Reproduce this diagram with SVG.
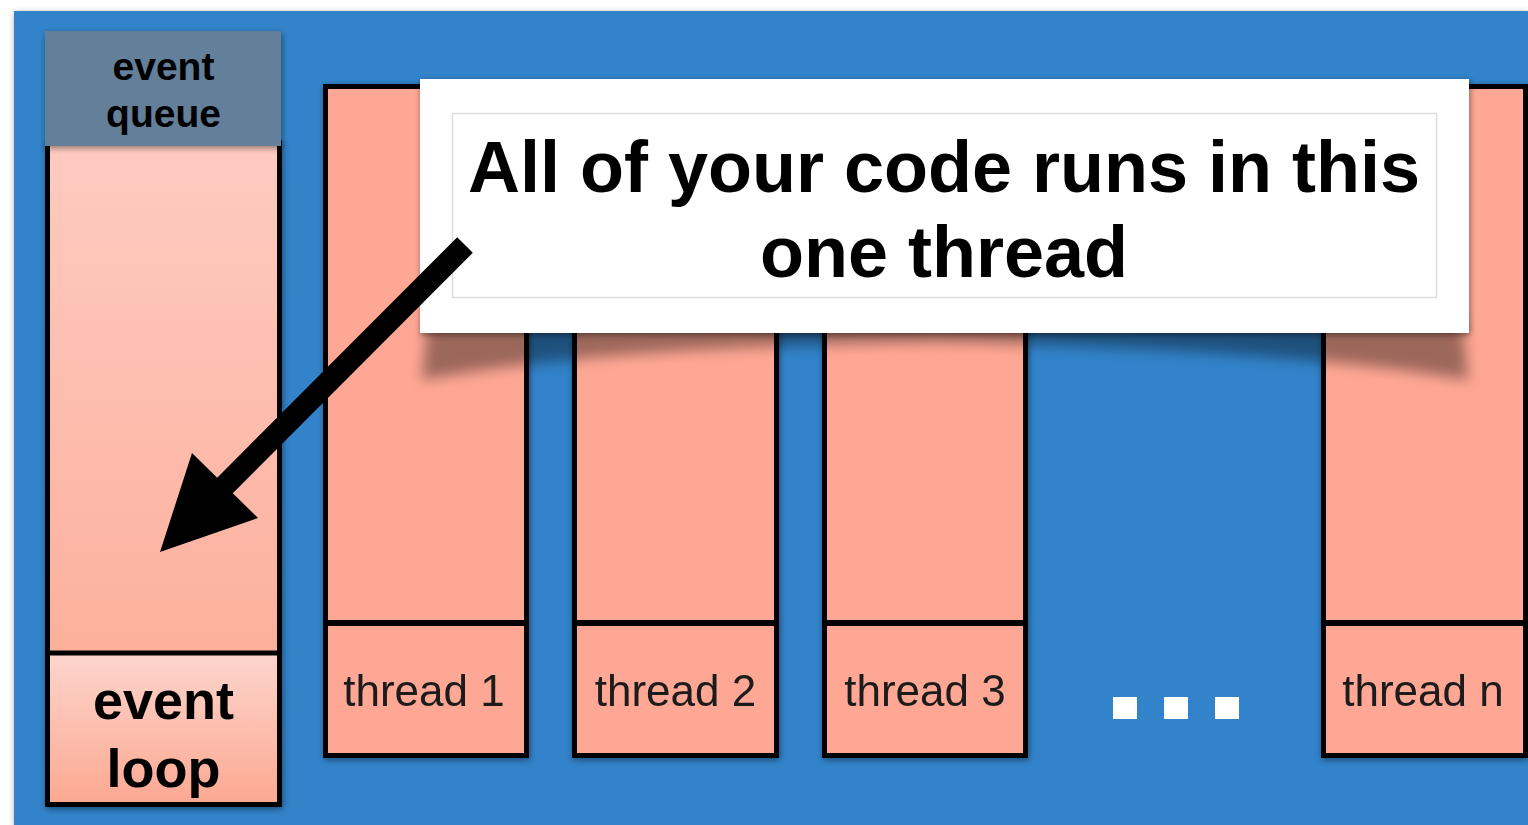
<svg xmlns="http://www.w3.org/2000/svg" width="1528" height="825" viewBox="0 0 1528 825">
<defs>
<linearGradient id="gBody" x1="0" y1="0" x2="0" y2="1">
<stop offset="0" stop-color="#fecbc1"/>
<stop offset="1" stop-color="#fca891"/>
</linearGradient>
<linearGradient id="gLoop" x1="0" y1="0" x2="0" y2="1">
<stop offset="0" stop-color="#fdd5cd"/>
<stop offset="1" stop-color="#fca891"/>
</linearGradient>
<filter id="ds" x="-10%" y="-10%" width="120%" height="120%">
<feGaussianBlur in="SourceAlpha" stdDeviation="3"/>
<feOffset dx="1" dy="2" result="b"/>
<feComponentTransfer><feFuncA type="linear" slope="0.45"/></feComponentTransfer>
<feMerge><feMergeNode/><feMergeNode in="SourceGraphic"/></feMerge>
</filter>
<filter id="blur" x="-10%" y="-50%" width="120%" height="200%">
<feGaussianBlur stdDeviation="7"/>
</filter>
<style>
.col{fill:#fea794;stroke:#000;stroke-width:5}
.sep{stroke:#000;stroke-width:6}
.lbl{font-family:"Liberation Sans",Arial,sans-serif;font-size:44px;font-weight:300;fill:#1a1a1a;text-anchor:middle}
.bold{font-family:"Liberation Sans",Arial,sans-serif;font-weight:bold;fill:#000;text-anchor:middle}
.dot{fill:#fff}
</style>
</defs>
<rect x="0" y="0" width="1528" height="825" fill="#ffffff"/>
<rect x="14" y="11" width="1514" height="814" fill="#3383ca" filter="url(#ds)"/>

<g id="event-loop-column">
<rect x="47.5" y="143" width="232" height="661.5" fill="url(#gBody)" stroke="#000" stroke-width="5" filter="url(#ds)"/>
<rect x="47.5" y="653" width="232" height="151.5" fill="url(#gLoop)" stroke="#000" stroke-width="5"/>
<text class="bold" x="163.5" y="719" font-size="54">event</text>
<text class="bold" x="163.5" y="787" font-size="54">loop</text>
</g>
<g id="event-queue">
<rect x="45" y="31" width="236" height="115" fill="#647f99" filter="url(#ds)"/>
<text class="bold" x="163.5" y="80" font-size="39">event</text>
<text class="bold" x="163.5" y="127" font-size="39">queue</text>
</g>

<g id="thread-1" filter="url(#ds)">
<rect class="col" x="325.5" y="86.5" width="201" height="669"/>
<line class="sep" x1="325.5" y1="623" x2="526.5" y2="623"/>
<text class="lbl" x="424" y="706">thread 1</text>
</g>
<g id="thread-2" filter="url(#ds)">
<rect class="col" x="574.5" y="86.5" width="202" height="669"/>
<line class="sep" x1="574.5" y1="623" x2="776.5" y2="623"/>
<text class="lbl" x="675.5" y="706">thread 2</text>
</g>
<g id="thread-3" filter="url(#ds)">
<rect class="col" x="824.5" y="86.5" width="201" height="669"/>
<line class="sep" x1="824.5" y1="623" x2="1025.5" y2="623"/>
<text class="lbl" x="925" y="706">thread 3</text>
</g>
<g id="ellipsis">
<rect class="dot" x="1113" y="697" width="24" height="22"/>
<rect class="dot" x="1164" y="697" width="24" height="22"/>
<rect class="dot" x="1215" y="697" width="24" height="22"/>
</g>
<g id="thread-n" filter="url(#ds)">
<rect class="col" x="1323.5" y="86.5" width="202" height="669"/>
<line class="sep" x1="1323.5" y1="623" x2="1525.5" y2="623"/>
<text class="lbl" x="1423" y="706">thread n</text>
</g>

<g id="callout">
<path d="M428,320 L1462,320 L1468,380 Q1300,350 944,342 Q600,346 422,380 Z" fill="#000" opacity="0.38" filter="url(#blur)"/>
<rect x="420" y="79" width="1049" height="254" fill="#ffffff" filter="url(#ds)"/>
<rect x="452.5" y="113.5" width="984" height="184" fill="none" stroke="#dddddd" stroke-width="1.5"/>
<text class="bold" x="944" y="192" font-size="72">All of your code runs in this</text>
<text class="bold" x="944" y="277" font-size="72">one thread</text>
</g>

<g id="connectors">
<polygon points="457.2,237.2 472.8,252.8 232.8,493.3 258,518 160,552 192,453 217.2,477.7" fill="#000"/>
</g>
</svg>
